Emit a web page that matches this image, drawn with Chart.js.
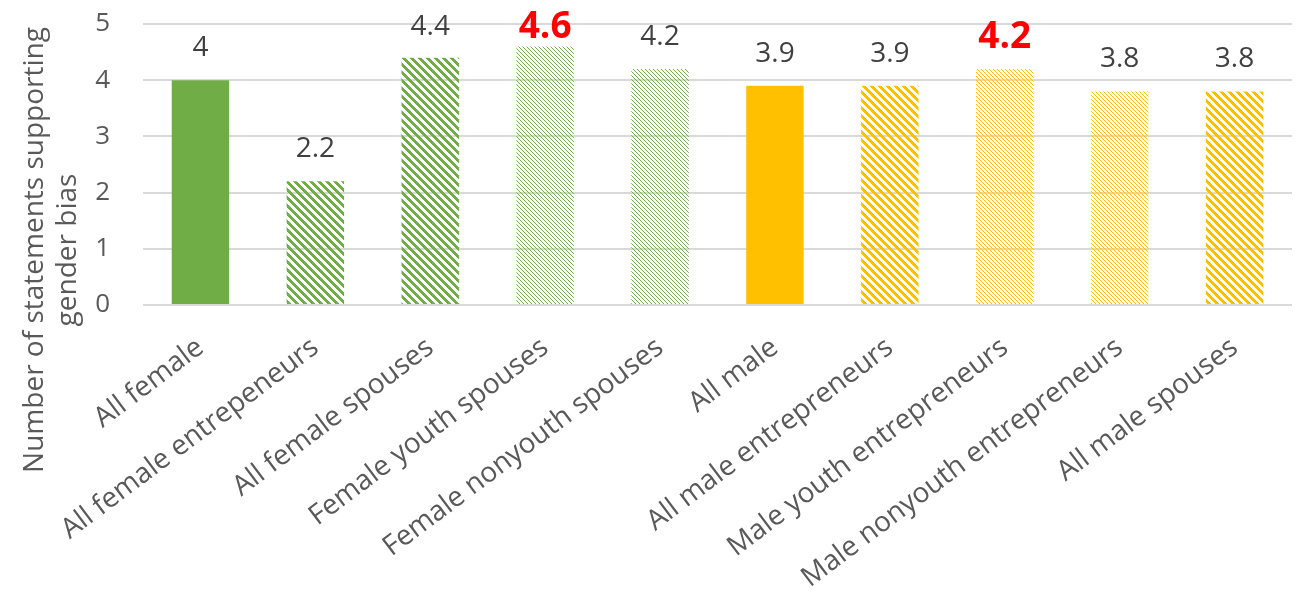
<!DOCTYPE html>
<html>
<head>
<meta charset="utf-8">
<script src="https://cdn.jsdelivr.net/npm/chart.js@4.4.1/dist/chart.umd.min.js"></script>
<style>
  html, body { margin: 0; padding: 0; background: #fff; }
  #wrap { width: 1302px; height: 596px; }
</style>
</head>
<body>
<div id="wrap"><canvas id="biasChart" width="1302" height="596"></canvas></div>
<script>
const categories = [
  'All female', 'All female entrepeneurs', 'All female spouses', 'Female youth spouses',
  'Female nonyouth spouses', 'All male', 'All male entrepreneurs', 'Male youth entrepreneurs',
  'Male nonyouth entrepreneurs', 'All male spouses'
];
const values = [4, 2.2, 4.4, 4.6, 4.2, 3.9, 3.9, 4.2, 3.8, 3.8];
// fill style per bar: solid, wide stripes or light stripes
const fills = ['solid', 'wide', 'wide', 'light', 'light', 'solid', 'wide', 'light', 'light', 'wide'];
const highlighted = [3, 7];
const yTicks = [0, 1, 2, 3, 4, 5];
const yTitle = ['Number of statements supporting', 'gender bias'];

const GREEN = '#70ad47';
const GOLD = '#ffc000';
const FONT = "'Open Sans'";

// 8x8 downward diagonal tiles, like the office hatch fills
function hatch(color, kind) {
  const c = document.createElement('canvas');
  c.width = 8; c.height = 8;
  const g = c.getContext('2d');
  g.fillStyle = color;
  for (let y = 0; y < 8; y++) {
    for (let x = 0; x < 8; x++) {
      const d = ((x - y) % 8 + 8) % 8;
      if (kind === 'wide' ? d < 4 : d % 4 === 0) g.fillRect(x, y, 1, 1);
    }
  }
  return document.getElementById('biasChart').getContext('2d').createPattern(c, 'repeat');
}

const barColors = fills.map((f, i) => {
  const col = i < 5 ? GREEN : GOLD;
  return f === 'solid' ? col : hatch(col, f);
});

// value labels above each bar, kept inside the top edge
const valueLabels = {
  id: 'valueLabels',
  afterDatasetsDraw(chart) {
    const ctx = chart.ctx;
    const meta = chart.getDatasetMeta(0);
    ctx.save();
    ctx.textAlign = 'center';
    ctx.textBaseline = 'middle';
    meta.data.forEach((bar, i) => {
      const hot = highlighted.includes(i);
      ctx.fillStyle = hot ? '#ff0000' : '#404040';
      ctx.font = hot ? `bold 37px ${FONT}` : `28px ${FONT}`;
      ctx.fillText(String(values[i]), bar.x, Math.max(bar.y - 32, 27));
    });
    ctx.restore();
  }
};

// y axis title, centred on the whole canvas height
const axisTitle = {
  id: 'axisTitle',
  afterDraw(chart) {
    const ctx = chart.ctx;
    ctx.save();
    ctx.fillStyle = '#595959';
    ctx.font = `28px ${FONT}`;
    ctx.textAlign = 'center';
    ctx.textBaseline = 'middle';
    yTitle.forEach((line, i) => {
      ctx.save();
      ctx.translate(35 + i * 33, 250);
      ctx.rotate(-Math.PI / 2);
      ctx.fillText(line, 0, 0);
      ctx.restore();
    });
    ctx.restore();
  }
};

new Chart(document.getElementById('biasChart'), {
  type: 'bar',
  data: {
    labels: categories,
    datasets: [{
      data: values,
      backgroundColor: barColors,
      borderWidth: 0,
      categoryPercentage: 1,
      barPercentage: 0.5
    }]
  },
  options: {
    responsive: false,
    animation: false,
    layout: { padding: { top: 24, right: 10, left: 0, bottom: 0 } },
    plugins: { legend: { display: false }, tooltip: { enabled: false } },
    scales: {
      x: {
        afterFit(axis) { axis.height = 291; },
        grid: { display: false },
        border: { display: false },
        ticks: {
          color: '#595959',
          font: { family: FONT, size: 28 },
          autoSkip: false,
          minRotation: 37, maxRotation: 37,
          padding: 18
        }
      },
      y: {
        min: 0, max: 5,
        afterFit(axis) {
          axis.width = 143;
          // the big tick padding should not push the plot down
          axis.paddingTop = 0;
          axis.paddingBottom = 0;
        },
        afterBuildTicks(axis) { axis.ticks = yTicks.map(v => ({ value: v })); },
        grid: { color: '#d9d9d9', lineWidth: 2, drawTicks: false },
        border: { display: false },
        ticks: {
          color: '#595959',
          font: { family: FONT, size: 26 },
          padding: 33
        }
      }
    }
  },
  plugins: [valueLabels, axisTitle]
});
</script>
</body>
</html>
